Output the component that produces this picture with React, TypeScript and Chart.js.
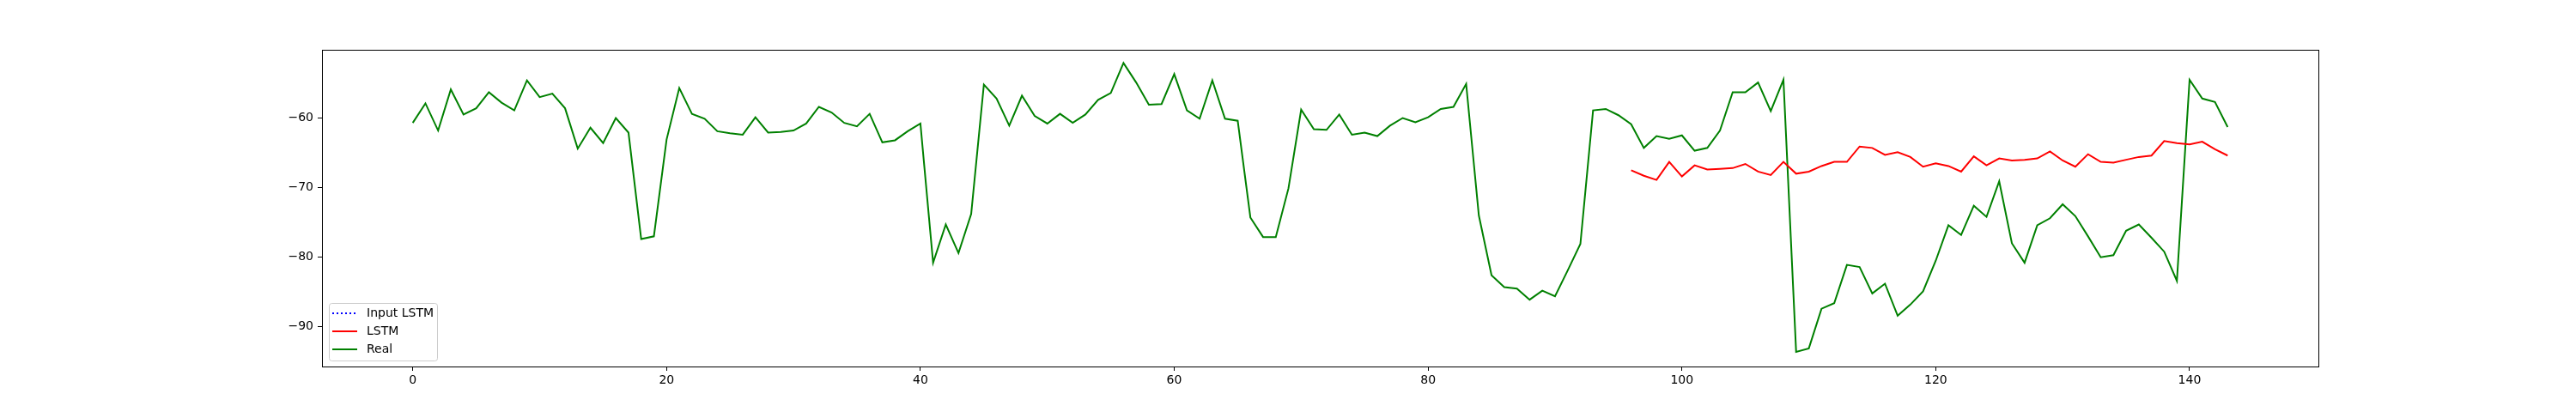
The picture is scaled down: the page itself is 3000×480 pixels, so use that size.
import React, { useEffect, useRef } from "react";
import { Chart, registerables } from "chart.js";
Chart.register(...registerables);

const realValues = [
  -60.7, -57.9, -61.8, -55.9, -59.5, -58.6, -56.3, -57.8, -58.9, -54.6,
  -57.0, -56.5, -58.6, -64.4, -61.4, -63.6, -60.0, -62.1, -77.4, -77.0,
  -63.1, -55.7, -59.4, -60.1, -61.9, -62.2, -62.4, -59.9, -62.1, -62.0,
  -61.8, -60.8, -58.4, -59.2, -60.7, -61.2, -59.4, -63.5, -63.2, -61.9,
  -60.8, -80.8, -75.3, -79.4, -73.8, -55.2, -57.2, -61.1, -56.8, -59.7,
  -60.8, -59.4, -60.7, -59.5, -57.4, -56.4, -52.1, -54.9, -58.1, -58.0,
  -53.7, -58.9, -60.1, -54.6, -60.1, -60.4, -74.3, -77.1, -77.1, -70.1,
  -58.8, -61.6, -61.7, -59.5, -62.4, -62.1, -62.6, -61.1, -60.0, -60.6,
  -59.9, -58.7, -58.4, -55.1, -74.0, -82.6, -84.3, -84.5, -86.1, -84.8,
  -85.6, -81.9, -78.1, -58.9, -58.7, -59.6, -60.9, -64.3, -62.6, -63.0,
  -62.5, -64.7, -64.3, -61.8, -56.3, -56.3, -54.9, -59.0, -54.5, -93.6,
  -93.1, -87.4, -86.6, -81.1, -81.4, -85.2, -83.8, -88.4, -86.8, -84.9,
  -80.5, -75.4, -76.8, -72.6, -74.2, -69.1, -78.0, -80.8, -75.4, -74.4,
  -72.4, -74.1, -77.0, -80.0, -79.7, -76.2, -75.3, -77.2, -79.2, -83.4,
  -54.5, -57.2, -57.7, -61.3,
];
const lstmStart = 96;
const lstmValues = [
  -67.5, -68.3, -68.9, -66.3, -68.4, -66.8, -67.4, -67.3, -67.2, -66.6,
  -67.7, -68.2, -66.3, -68.0, -67.7, -66.9, -66.3, -66.3, -64.1, -64.3,
  -65.3, -64.9, -65.6, -67.0, -66.5, -66.9, -67.7, -65.5, -66.8, -65.8,
  -66.1, -66.0, -65.8, -64.8, -66.1, -67.0, -65.2, -66.3, -66.4, -66.0,
  -65.6, -65.4, -63.3, -63.6, -63.8, -63.4, -64.5, -65.4,
];
const inputValues: number[] = [];
const xTicks = [0, 20, 40, 60, 80, 100, 120, 140];
const yTicks = [-90, -80, -70, -60];
const legendLabels = ["Input LSTM", "LSTM", "Real"];

const FONT = "14px 'DejaVu Sans'";

export default function App() {
  const ref = useRef<HTMLCanvasElement>(null);
  useEffect(() => {
    const ctx = ref.current!.getContext("2d")!;
    const boxPlugin = {
      id: "box",
      afterDraw(chart: any) {
        const { ctx: c, chartArea: a } = chart;
        c.save();
        c.strokeStyle = "#000";
        c.lineWidth = 1;
        c.strokeRect(Math.round(a.left) + 0.5, Math.round(a.top) + 0.5, Math.round(a.right - a.left), Math.round(a.bottom - a.top));
        // legend
        const x0 = a.left + 8, y0 = a.bottom - 74, w = 126, h = 67;
        c.fillStyle = "rgba(255,255,255,0.8)";
        c.strokeStyle = "#cccccc";
        c.beginPath();
        c.roundRect(x0 + 0.5, y0 + 0.5, w, h, 3);
        c.fill();
        c.stroke();
        const styles = [
          { color: "#0000ff", dash: [2, 3] },
          { color: "#ff0000", dash: [] },
          { color: "#008000", dash: [] },
        ];
        c.font = FONT;
        c.textBaseline = "middle";
        legendLabels.forEach((lab, i) => {
          const y = y0 + 12 + i * 21;
          c.strokeStyle = styles[i].color;
          c.lineWidth = 2;
          c.setLineDash(styles[i].dash);
          c.beginPath();
          c.moveTo(x0 + 4, y);
          c.lineTo(x0 + 33, y);
          c.stroke();
          c.setLineDash([]);
          c.fillStyle = "#000";
          c.fillText(lab, x0 + 44, y);
        });
        c.restore();
      },
    };
    const chart = new Chart(ctx, {
      type: "line",
      data: {
        datasets: [
          {
            label: legendLabels[0],
            data: inputValues.map((v, i) => ({ x: i, y: v })),
            borderColor: "#0000ff",
            borderDash: [2, 3],
            borderWidth: 2,
            pointRadius: 0,
          },
          {
            label: legendLabels[1],
            data: lstmValues.map((v, i) => ({ x: i + lstmStart, y: v })),
            borderColor: "#ff0000",
            borderWidth: 2,
            pointRadius: 0,
            order: 1,
          },
          {
            label: legendLabels[2],
            data: realValues.map((v, i) => ({ x: i, y: v })),
            borderColor: "#008000",
            borderWidth: 2,
            pointRadius: 0,
            order: 2,
          },
        ],
      },
      plugins: [boxPlugin],
      options: {
        animation: false,
        responsive: false,
        devicePixelRatio: 1,
        layout: { padding: { top: 58, right: 300, left: 0, bottom: 0 } },
        plugins: { legend: { display: false }, tooltip: { enabled: false } },
        elements: { line: { tension: 0 } },
        scales: {
          x: {
            type: "linear",
            min: -7.15,
            max: 150.15,
            afterBuildTicks: (s: any) => { s.ticks = xTicks.map((v) => ({ value: v })); },
            afterFit: (s: any) => { s.height = 53; },
            grid: { drawOnChartArea: false, tickLength: 5, color: "#000" },
            border: { display: false },
            ticks: { color: "#000", font: { family: "DejaVu Sans", size: 14 }, padding: 3, maxRotation: 0 },
          },
          y: {
            min: -95.7,
            max: -50.2,
            afterBuildTicks: (s: any) => { s.ticks = yTicks.map((v) => ({ value: v })); },
            afterFit: (s: any) => { s.width = 375; },
            grid: { drawOnChartArea: false, tickLength: 5, color: "#000" },
            border: { display: false },
            ticks: { color: "#000", font: { family: "DejaVu Sans", size: 14 }, padding: 5, callback: (v: any) => String(v).replace("-", "\u2212") },
          },
        },
      },
    });
    return () => chart.destroy();
  }, []);
  return (
    <div style={{ position: "absolute", left: 0, top: 0, width: 3000, height: 480, background: "#fff" }}>
      <canvas ref={ref} width={3000} height={480} style={{ width: 3000, height: 480 }} />
    </div>
  );
}
